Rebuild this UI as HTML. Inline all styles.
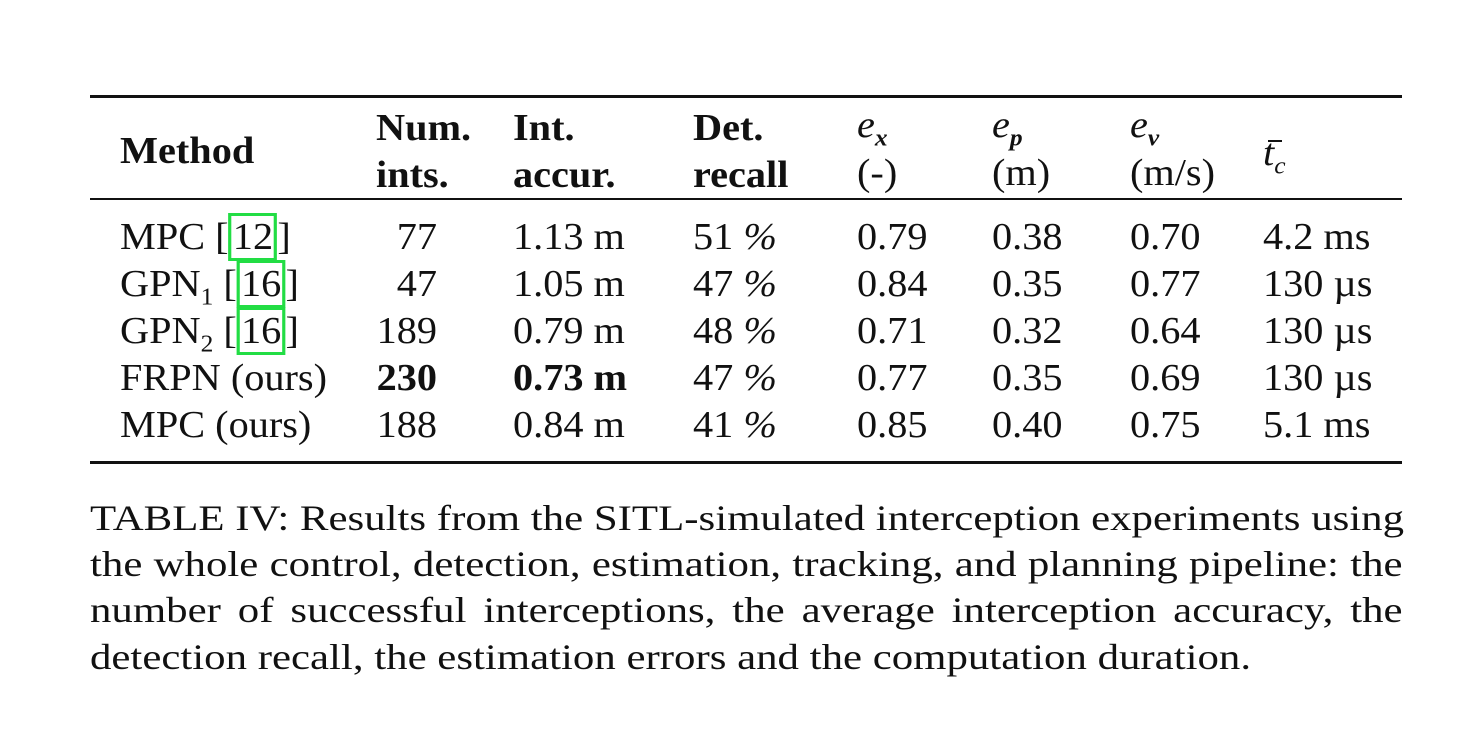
<!DOCTYPE html>
<html><head><meta charset="utf-8"><style>
body{margin:0;width:1480px;height:750px;background:#fff;position:relative;overflow:hidden;font-family:"Liberation Serif",serif;color:#111;}
.t{position:absolute;font-size:38px;line-height:1;white-space:nowrap;transform:scaleX(1.06);transform-origin:left center;}
.b{font-weight:bold;}
.r{text-align:right;transform-origin:right center;}
.rule{position:absolute;left:90px;width:1312px;background:#111;}
.box{border:3px solid #22dd44;padding:0 1px;}
.cl{position:absolute;left:90px;width:1103px;font-size:36px;line-height:1;white-space:nowrap;text-align:justify;text-align-last:justify;transform:scaleX(1.19);transform-origin:left center;}
i{font-style:italic;}
sub{font-size:24px;}
</style></head><body>
<div class="rule" style="top:95px;height:3px"></div>
<div class="rule" style="top:198px;height:2px"></div>
<div class="rule" style="top:461px;height:3px"></div>

<div class="t b" style="left:120px;top:132px">Method</div>
<div class="t b" style="left:376px;top:109px">Num.</div>
<div class="t b" style="left:376px;top:156px">ints.</div>
<div class="t b" style="left:513px;top:109px">Int.</div>
<div class="t b" style="left:513px;top:156px">accur.</div>
<div class="t b" style="left:693px;top:109px">Det.</div>
<div class="t b" style="left:693px;top:156px">recall</div>
<div class="t" style="left:857px;top:106px"><i>e</i><sub><b><i>x</i></b></sub></div>
<div class="t" style="left:857px;top:154px">(-)</div>
<div class="t" style="left:992px;top:106px"><i>e</i><sub><b><i>p</i></b></sub></div>
<div class="t" style="left:992px;top:154px">(m)</div>
<div class="t" style="left:1130px;top:106px"><i>e</i><sub><b><i>v</i></b></sub></div>
<div class="t" style="left:1130px;top:154px">(m/s)</div>
<div class="t" style="left:1263px;top:134px"><i>t</i><sub><i>c</i></sub></div>
<div style="position:absolute;left:1268px;top:140px;width:14px;height:2px;background:#111"></div>

<div class="t" style="left:120px;top:218px">MPC [<span class="box">12</span>]</div>
<div class="t" style="left:120px;top:265px">GPN<sub>1</sub> [<span class="box">16</span>]</div>
<div class="t" style="left:120px;top:312px">GPN<sub>2</sub> [<span class="box">16</span>]</div>
<div class="t" style="left:120px;top:359px">FRPN (ours)</div>
<div class="t" style="left:120px;top:406px">MPC (ours)</div>

<div class="t r" style="left:337px;width:100px;top:218px">77</div>
<div class="t r" style="left:337px;width:100px;top:265px">47</div>
<div class="t r" style="left:337px;width:100px;top:312px">189</div>
<div class="t r b" style="left:337px;width:100px;top:359px">230</div>
<div class="t r" style="left:337px;width:100px;top:406px">188</div>

<div class="t" style="left:513px;top:218px">1.13 m</div>
<div class="t" style="left:513px;top:265px">1.05 m</div>
<div class="t" style="left:513px;top:312px">0.79 m</div>
<div class="t b" style="left:513px;top:359px">0.73 m</div>
<div class="t" style="left:513px;top:406px">0.84 m</div>

<div class="t" style="left:693px;top:218px">51 <i>%</i></div>
<div class="t" style="left:693px;top:265px">47 <i>%</i></div>
<div class="t" style="left:693px;top:312px">48 <i>%</i></div>
<div class="t" style="left:693px;top:359px">47 <i>%</i></div>
<div class="t" style="left:693px;top:406px">41 <i>%</i></div>

<div class="t" style="left:857px;top:218px">0.79</div>
<div class="t" style="left:857px;top:265px">0.84</div>
<div class="t" style="left:857px;top:312px">0.71</div>
<div class="t" style="left:857px;top:359px">0.77</div>
<div class="t" style="left:857px;top:406px">0.85</div>

<div class="t" style="left:992px;top:218px">0.38</div>
<div class="t" style="left:992px;top:265px">0.35</div>
<div class="t" style="left:992px;top:312px">0.32</div>
<div class="t" style="left:992px;top:359px">0.35</div>
<div class="t" style="left:992px;top:406px">0.40</div>

<div class="t" style="left:1130px;top:218px">0.70</div>
<div class="t" style="left:1130px;top:265px">0.77</div>
<div class="t" style="left:1130px;top:312px">0.64</div>
<div class="t" style="left:1130px;top:359px">0.69</div>
<div class="t" style="left:1130px;top:406px">0.75</div>

<div class="t" style="left:1263px;top:218px">4.2 ms</div>
<div class="t" style="left:1263px;top:265px">130 µs</div>
<div class="t" style="left:1263px;top:312px">130 µs</div>
<div class="t" style="left:1263px;top:359px">130 µs</div>
<div class="t" style="left:1263px;top:406px">5.1 ms</div>

<div class="cl" style="top:500px">TABLE IV: Results from the SITL-simulated interception experiments using</div>
<div class="cl" style="top:546px">the whole control, detection, estimation, tracking, and planning pipeline: the</div>
<div class="cl" style="top:592px">number of successful interceptions, the average interception accuracy, the</div>
<div class="cl" style="top:639px;text-align:left;text-align-last:left;">detection recall, the estimation errors and the computation duration.</div>
</body></html>
